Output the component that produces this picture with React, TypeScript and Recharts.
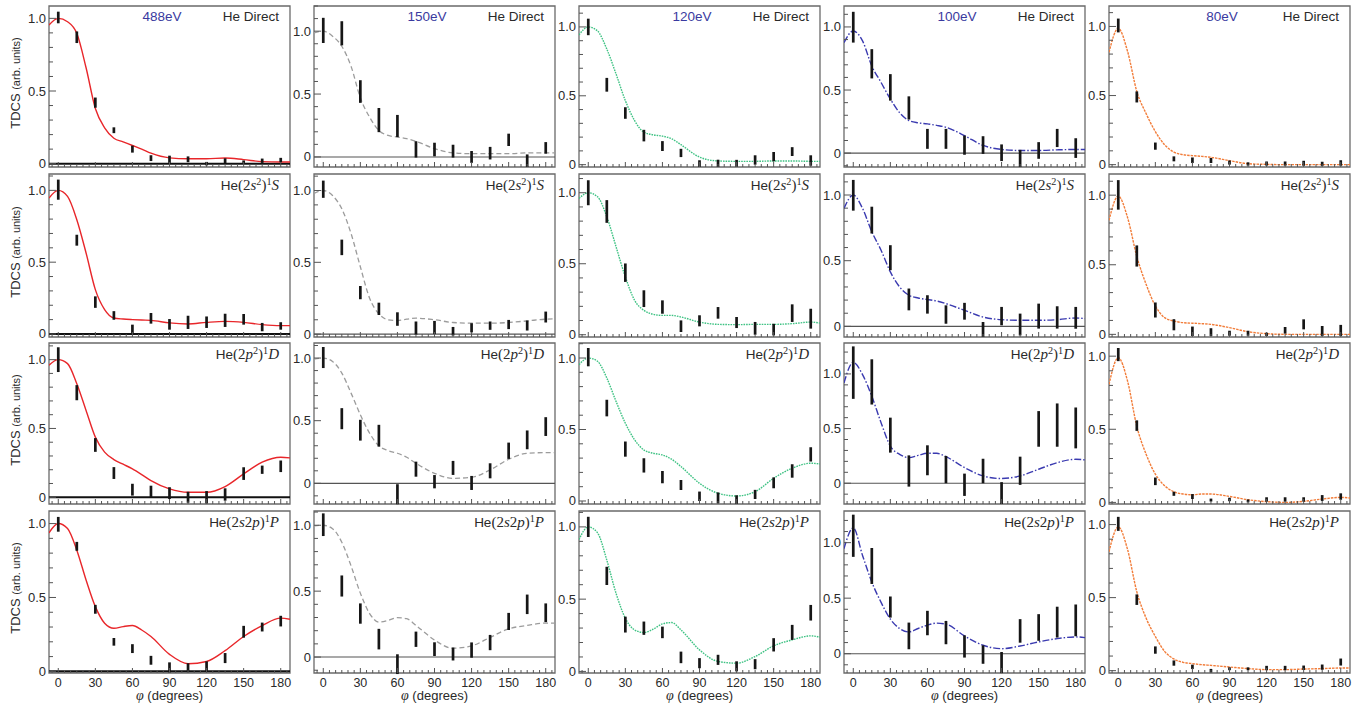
import React from 'react';
import { ComposedChart, Line, Scatter, ErrorBar, XAxis, YAxis, ReferenceLine, ReferenceArea } from 'recharts';

// ---------- data ----------
const ANGLES = [0, 15, 30, 45, 60, 75, 90, 105, 120, 135, 150, 165, 180];
const CURVE_X = [-7.5, 0, 7.5, 15, 22.5, 30, 37.5, 45, 52.5, 60, 67.5, 75, 90, 105, 120, 135, 150, 165, 180, 187.5];
const ENERGIES = ['488eV', '150eV', '120eV', '100eV', '80eV'];
const STATES = ['direct', '2s2', '2p2', '2s2p'];
const X_LABELS = [0, 30, 60, 90, 120, 150, 180];
const Y_LABELS = [0, 0.5, 1.0];

// 488 eV
const th488Direct = [0.954, 1.0, 0.977, 0.897, 0.66, 0.38, 0.247, 0.175, 0.15, 0.125, 0.1, 0.072, 0.04, 0.034, 0.034, 0.039, 0.028, 0.014, 0.011, 0.011];
const th488S = [0.947, 1.0, 0.958, 0.796, 0.564, 0.309, 0.17, 0.111, 0.104, 0.1, 0.097, 0.095, 0.077, 0.07, 0.081, 0.088, 0.081, 0.065, 0.058, 0.058];
const th488D = [0.959, 1.0, 0.971, 0.825, 0.631, 0.437, 0.328, 0.274, 0.24, 0.206, 0.165, 0.121, 0.061, 0.036, 0.036, 0.078, 0.17, 0.255, 0.291, 0.286];
const th488P = [0.937, 1.0, 0.966, 0.82, 0.618, 0.438, 0.326, 0.292, 0.303, 0.31, 0.28, 0.236, 0.115, 0.052, 0.067, 0.14, 0.236, 0.31, 0.36, 0.353];
const ex488DirectV = [1.006, 0.87, 0.42, 0.23, 0.1, 0.038, 0.03, 0.03, 0.0, 0.02, 0.01, 0.02, 0.025];
const ex488DirectE = [0.04, 0.04, 0.035, 0.02, 0.024, 0.02, 0.025, 0.02, 0.012, 0.017, 0.012, 0.015, 0.015];
const ex488SV = [1.005, 0.653, 0.222, 0.129, 0.03, 0.109, 0.067, 0.081, 0.082, 0.095, 0.102, 0.048, 0.056];
const ex488SE = [0.07, 0.038, 0.04, 0.03, 0.035, 0.037, 0.037, 0.046, 0.04, 0.046, 0.037, 0.029, 0.026];
const ex488DV = [1.0, 0.76, 0.38, 0.176, 0.055, 0.042, 0.03, 0.0, 0.0, 0.02, 0.172, 0.2, 0.225];
const ex488DE = [0.09, 0.055, 0.05, 0.043, 0.043, 0.042, 0.043, 0.04, 0.045, 0.045, 0.046, 0.03, 0.042];
const ex488PV = [0.995, 0.846, 0.42, 0.2, 0.154, 0.075, 0.027, 0.025, 0.034, 0.09, 0.268, 0.3, 0.34];
const ex488PE = [0.05, 0.03, 0.03, 0.026, 0.03, 0.03, 0.034, 0.03, 0.034, 0.034, 0.04, 0.03, 0.036];

// 150 eV
const th150Direct = [0.987, 1.0, 0.96, 0.88, 0.72, 0.47, 0.316, 0.21, 0.171, 0.158, 0.145, 0.124, 0.066, 0.032, 0.026, 0.026, 0.026, 0.032, 0.032, 0.032];
const th150S = [0.98, 1.0, 0.965, 0.873, 0.7, 0.469, 0.25, 0.141, 0.1, 0.095, 0.104, 0.111, 0.1, 0.081, 0.076, 0.076, 0.081, 0.092, 0.104, 0.106];
const th150D = [0.992, 1.0, 0.973, 0.88, 0.72, 0.547, 0.4, 0.299, 0.261, 0.24, 0.208, 0.16, 0.08, 0.04, 0.048, 0.107, 0.192, 0.24, 0.245, 0.245];
const th150P = [0.995, 1.0, 0.974, 0.871, 0.691, 0.485, 0.33, 0.265, 0.278, 0.299, 0.291, 0.24, 0.129, 0.067, 0.085, 0.149, 0.214, 0.24, 0.258, 0.258];
const ex150DirectV = [1.006, 0.983, 0.52, 0.293, 0.246, 0.06, 0.059, 0.046, 0.0, 0.03, 0.136, -0.03, 0.072];
const ex150DirectE = [0.1, 0.096, 0.09, 0.096, 0.088, 0.065, 0.054, 0.051, 0.047, 0.05, 0.049, 0.05, 0.046];
const ex150SV = [1.009, 0.604, 0.289, 0.176, 0.105, 0.042, 0.046, 0.02, 0.044, 0.059, 0.067, 0.06, 0.119];
const ex150SE = [0.06, 0.054, 0.046, 0.043, 0.047, 0.046, 0.046, 0.03, 0.032, 0.029, 0.032, 0.035, 0.038];
const ex150DV = [1.004, 0.516, 0.424, 0.38, -0.087, 0.113, 0.013, 0.123, 0.003, 0.1, 0.26, 0.347, 0.453];
const ex150DE = [0.084, 0.084, 0.083, 0.087, 0.08, 0.06, 0.053, 0.056, 0.056, 0.06, 0.065, 0.075, 0.075];
const ex150PV = [1.004, 0.539, 0.33, 0.136, -0.054, 0.135, 0.06, 0.023, 0.053, 0.11, 0.27, 0.4, 0.336];
const ex150PE = [0.086, 0.08, 0.077, 0.078, 0.075, 0.058, 0.052, 0.049, 0.058, 0.058, 0.065, 0.074, 0.071];

// 120 eV
const th120Direct = [0.942, 1.0, 0.971, 0.839, 0.658, 0.465, 0.32, 0.236, 0.217, 0.207, 0.188, 0.145, 0.055, 0.027, 0.024, 0.024, 0.027, 0.027, 0.024, 0.024];
const th120S = [0.96, 1.0, 0.972, 0.831, 0.619, 0.407, 0.242, 0.172, 0.144, 0.136, 0.136, 0.125, 0.089, 0.073, 0.071, 0.073, 0.073, 0.078, 0.089, 0.082];
const th120D = [0.953, 1.0, 0.977, 0.86, 0.696, 0.544, 0.428, 0.357, 0.334, 0.322, 0.292, 0.241, 0.124, 0.054, 0.035, 0.065, 0.159, 0.229, 0.264, 0.259];
const th120P = [0.913, 1.0, 0.959, 0.77, 0.54, 0.368, 0.287, 0.269, 0.292, 0.329, 0.338, 0.287, 0.149, 0.069, 0.057, 0.103, 0.177, 0.218, 0.246, 0.237];
const ex120DirectV = [1.0, 0.58, 0.375, 0.211, 0.135, 0.085, 0.008, 0.01, 0.01, 0.034, 0.058, 0.095, 0.03];
const ex120DirectE = [0.06, 0.05, 0.042, 0.042, 0.036, 0.03, 0.024, 0.026, 0.025, 0.034, 0.034, 0.032, 0.038];
const ex120SV = [1.0, 0.868, 0.437, 0.254, 0.195, 0.06, 0.098, 0.154, 0.086, 0.045, 0.036, 0.152, 0.113];
const ex120SE = [0.088, 0.08, 0.065, 0.059, 0.047, 0.041, 0.039, 0.041, 0.039, 0.045, 0.041, 0.062, 0.07];
const ex120DV = [1.006, 0.65, 0.363, 0.249, 0.167, 0.112, 0.033, 0.022, 0.01, 0.046, 0.127, 0.21, 0.326];
const ex120DE = [0.064, 0.058, 0.053, 0.05, 0.043, 0.035, 0.033, 0.038, 0.03, 0.032, 0.038, 0.047, 0.05];
const ex120PV = [1.0, 0.661, 0.324, 0.299, 0.27, 0.097, 0.057, 0.08, 0.035, 0.05, 0.184, 0.27, 0.406];
const ex120PE = [0.07, 0.063, 0.055, 0.046, 0.04, 0.04, 0.035, 0.035, 0.035, 0.035, 0.046, 0.052, 0.054];

// 100 eV
const th100Direct = [0.876, 0.968, 0.889, 0.69, 0.56, 0.429, 0.32, 0.258, 0.24, 0.232, 0.22, 0.205, 0.139, 0.061, 0.029, 0.021, 0.021, 0.026, 0.029, 0.029];
const th100S = [0.898, 1.0, 0.898, 0.72, 0.58, 0.415, 0.3, 0.237, 0.216, 0.204, 0.193, 0.173, 0.122, 0.071, 0.051, 0.046, 0.046, 0.051, 0.064, 0.059];
const th100D = [0.918, 1.106, 0.994, 0.796, 0.553, 0.34, 0.264, 0.234, 0.255, 0.274, 0.274, 0.243, 0.143, 0.067, 0.043, 0.067, 0.128, 0.188, 0.219, 0.213];
const th100P = [0.946, 1.133, 0.885, 0.645, 0.462, 0.311, 0.227, 0.196, 0.227, 0.257, 0.275, 0.266, 0.16, 0.076, 0.045, 0.069, 0.106, 0.136, 0.151, 0.145];
const ex100DirectV = [0.998, 0.708, 0.521, 0.358, 0.113, 0.113, 0.063, 0.064, 0.003, -0.042, 0.021, 0.12, 0.04];
const ex100DirectE = [0.122, 0.116, 0.105, 0.092, 0.079, 0.079, 0.076, 0.07, 0.066, 0.068, 0.066, 0.072, 0.078];
const ex100SV = [0.998, 0.809, 0.523, 0.205, 0.167, 0.09, 0.115, -0.024, 0.078, 0.014, 0.078, 0.068, 0.065];
const ex100SE = [0.117, 0.102, 0.095, 0.083, 0.07, 0.07, 0.064, 0.057, 0.07, 0.083, 0.095, 0.085, 0.083];
const ex100DV = [1.012, 0.927, 0.44, 0.112, 0.21, 0.125, -0.014, 0.112, -0.09, 0.114, 0.497, 0.532, 0.506];
const ex100DE = [0.24, 0.207, 0.16, 0.143, 0.137, 0.125, 0.102, 0.112, 0.1, 0.129, 0.163, 0.198, 0.187];
const ex100PV = [1.062, 0.79, 0.42, 0.16, 0.276, 0.19, 0.065, -0.008, -0.08, 0.205, 0.236, 0.284, 0.3];
const ex100PE = [0.19, 0.162, 0.095, 0.12, 0.11, 0.105, 0.1, 0.083, 0.095, 0.106, 0.12, 0.139, 0.143];

// 80 eV
const th80Direct = [0.813, 0.986, 0.82, 0.53, 0.37, 0.239, 0.144, 0.091, 0.072, 0.065, 0.06, 0.053, 0.029, 0.007, 0.002, 0.0, 0.0, 0.0, 0.0, 0.0];
const th80S = [0.819, 0.993, 0.84, 0.56, 0.36, 0.205, 0.12, 0.096, 0.084, 0.08, 0.077, 0.072, 0.048, 0.019, 0.005, 0.0, 0.0, 0.0, 0.0, 0.0];
const th80D = [0.807, 0.989, 0.83, 0.52, 0.33, 0.193, 0.114, 0.073, 0.057, 0.052, 0.057, 0.057, 0.041, 0.018, 0.005, 0.0, 0.007, 0.023, 0.034, 0.03];
const th80P = [0.814, 0.984, 0.83, 0.54, 0.36, 0.234, 0.132, 0.08, 0.057, 0.048, 0.041, 0.036, 0.025, 0.014, 0.007, 0.007, 0.011, 0.014, 0.018, 0.018];
const ex80DirectV = [1.007, 0.49, 0.134, 0.042, 0.032, 0.03, 0.015, 0.005, 0.008, 0.008, 0.01, 0.006, 0.012];
const ex80DirectE = [0.05, 0.04, 0.026, 0.018, 0.02, 0.018, 0.015, 0.012, 0.015, 0.015, 0.018, 0.015, 0.02];
const ex80SV = [1.002, 0.563, 0.175, 0.069, 0.022, 0.016, 0.008, 0.008, 0.0, 0.029, 0.072, 0.024, 0.028];
const ex80SE = [0.106, 0.076, 0.054, 0.04, 0.034, 0.028, 0.018, 0.018, 0.012, 0.024, 0.036, 0.036, 0.04];
const ex80DV = [1.011, 0.525, 0.144, 0.059, 0.04, 0.016, 0.02, 0.01, 0.02, 0.02, 0.02, 0.03, 0.04];
const ex80DE = [0.045, 0.036, 0.026, 0.014, 0.017, 0.01, 0.012, 0.01, 0.015, 0.015, 0.015, 0.02, 0.022];
const ex80PV = [1.005, 0.486, 0.141, 0.052, 0.026, 0.0, 0.013, 0.013, 0.018, 0.018, 0.02, 0.024, 0.059];
const ex80PE = [0.048, 0.036, 0.025, 0.018, 0.015, 0.012, 0.01, 0.01, 0.015, 0.015, 0.015, 0.018, 0.024];

// y-axis ranges, rows = states, columns = energies
const yRangeDirect = [[-0.023, 1.085], [-0.08, 1.2], [-0.017, 1.152], [-0.11, 1.166], [-0.017, 1.148]];
const yRangeS = [[-0.021, 1.114], [-0.02, 1.115], [-0.016, 1.132], [-0.081, 1.16], [-0.019, 1.152]];
const yRangeD = [[-0.049, 1.121], [-0.165, 1.12], [-0.021, 1.105], [-0.19, 1.283], [-0.011, 1.09]];
const yRangeP = [[-0.011, 1.085], [-0.121, 1.108], [-0.011, 1.11], [-0.174, 1.285], [-0.016, 1.093]];

// ---------- assembly ----------
const THEORY = [
  [th488Direct, th150Direct, th120Direct, th100Direct, th80Direct],
  [th488S, th150S, th120S, th100S, th80S],
  [th488D, th150D, th120D, th100D, th80D],
  [th488P, th150P, th120P, th100P, th80P],
];
const EXP_V = [
  [ex488DirectV, ex150DirectV, ex120DirectV, ex100DirectV, ex80DirectV],
  [ex488SV, ex150SV, ex120SV, ex100SV, ex80SV],
  [ex488DV, ex150DV, ex120DV, ex100DV, ex80DV],
  [ex488PV, ex150PV, ex120PV, ex100PV, ex80PV],
];
const EXP_E = [
  [ex488DirectE, ex150DirectE, ex120DirectE, ex100DirectE, ex80DirectE],
  [ex488SE, ex150SE, ex120SE, ex100SE, ex80SE],
  [ex488DE, ex150DE, ex120DE, ex100DE, ex80DE],
  [ex488PE, ex150PE, ex120PE, ex100PE, ex80PE],
];
const Y_RANGES = [yRangeDirect, yRangeS, yRangeD, yRangeP];

// ---------- layout & style ----------
const COL_LEFT = [49, 314, 579, 844, 1109];
const PANEL_W = 241;
const ROW_TOP = [6, 174, 343, 511];
const PANEL_H = [161, 163, 161, 162];
const X_DOMAIN = [-7.5, 187.5];
const LINE_COLORS = ['#e8262a', '#9c9c9c', '#3ec283', '#3a3ab0', '#f27d3a'];
const LINE_DASH = [undefined, '5 3', '1.6 1', '7 2 1.5 2', '2.5 1'];
const SANS = '"Liberation Sans", Arial, Helvetica, sans-serif';
const SERIF = '"Liberation Serif", "DejaVu Serif", serif';
const TEXT = '#2a2a2a';
const TICK = '#555';

const X_TICKS: number[] = [];
for (let a = -5; a <= 185; a += 5) X_TICKS.push(a);

function XTick(props: any) {
  const { x, y, payload, showLabel } = props;
  const v = payload.value;
  const major = v % 30 === 0;
  return (
    <g>
      <line x1={x} x2={x} y1={y} y2={y - (major ? 5 : 3)} stroke={TICK} strokeWidth={1} />
      {showLabel && X_LABELS.includes(v) && (
        <text x={x} y={y + 9.5} textAnchor="middle" dominantBaseline="central" fontSize={12.5} fontFamily={SANS} fill={TEXT}>
          {v}
        </text>
      )}
    </g>
  );
}

function YTick(props: any) {
  const { x, y, payload } = props;
  const v = payload.value;
  const lab = Y_LABELS.find((l) => Math.abs(l - v) < 1e-6);
  const major = lab !== undefined;
  return (
    <g>
      <line x1={x} x2={x + (major ? 7 : 4)} y1={y} y2={y} stroke={TICK} strokeWidth={1} />
      {major && (
        <text x={x - 3} y={y} textAnchor="end" dominantBaseline="central" fontSize={13} fontFamily={SANS} fill={TEXT}>
          {lab === 0 ? '0' : lab.toFixed(1)}
        </text>
      )}
    </g>
  );
}

const supStyle: React.CSSProperties = { fontSize: '0.68em', verticalAlign: '0.5em', lineHeight: 0 };

function StateLabel({ state }: { state: string }) {
  if (state === 'direct') return <span style={{ fontFamily: SANS }}>He Direct</span>;
  let inner: React.ReactNode = null;
  if (state === '2s2') inner = (<>(2<i>s</i><sup style={supStyle}>2</sup>)<sup style={supStyle}>1</sup><i>S</i></>);
  if (state === '2p2') inner = (<>(2<i>p</i><sup style={supStyle}>2</sup>)<sup style={supStyle}>1</sup><i>D</i></>);
  if (state === '2s2p') inner = (<>(2<i>s</i>2<i>p</i>)<sup style={supStyle}>1</sup><i>P</i></>);
  return (
    <span>
      <span style={{ fontFamily: SANS }}>He</span>
      <span style={{ fontFamily: SERIF, fontSize: 15 }}>{inner}</span>
    </span>
  );
}

function Panel({ row, col }: { row: number; col: number }) {
  const L = col === 0 ? 49 : 40;
  const B = row === 3 ? 30 : 9;
  const T = 2;
  const R = 3;
  const h = PANEL_H[row];
  const [ymin, ymax] = Y_RANGES[row][col];
  const yTicks: number[] = [];
  for (let i = -3; i <= 13; i++) {
    const v = i / 10;
    if (v >= ymin - 1e-9 && v <= ymax + 1e-9) yTicks.push(v);
  }
  const curve = CURVE_X.map((x, i) => ({ x, y: THEORY[row][col][i] }));
  const pts = ANGLES.map((x, i) => ({ x, y: EXP_V[row][col][i], e: EXP_E[row][col][i] }));
  return (
    <div style={{ position: 'absolute', left: COL_LEFT[col] - L, top: ROW_TOP[row] - T }}>
      <ComposedChart width={L + PANEL_W + R} height={T + h + B} margin={{ top: T, right: R, bottom: 0, left: 0 }}>
        <XAxis
          type="number"
          dataKey="x"
          domain={X_DOMAIN}
          allowDataOverflow
          ticks={X_TICKS}
          interval={0}
          tickSize={0}
          tickMargin={0}
          axisLine={false}
          tickLine={false}
          height={B}
          tick={(p: any) => <XTick {...p} showLabel={row === 3} />}
        />
        <YAxis
          type="number"
          domain={[ymin, ymax]}
          allowDataOverflow
          ticks={yTicks}
          interval={0}
          width={L}
          tickSize={0}
          tickMargin={0}
          axisLine={false}
          tickLine={false}
          tick={(p: any) => <YTick {...p} />}
        />
        {col !== 2 && col !== 4 && (
          <ReferenceLine
            y={0}
            stroke={col === 0 ? '#111' : '#555'}
            strokeWidth={col === 0 ? 2 : 1.1}
            ifOverflow="visible"
          />
        )}
        <Line
          data={curve}
          dataKey="y"
          type="monotone"
          stroke={LINE_COLORS[col]}
          strokeWidth={col === 1 ? 1.3 : 1.4}
          strokeDasharray={LINE_DASH[col]}
          dot={false}
          activeDot={false}
          isAnimationActive={false}
        />
        <Scatter data={pts} dataKey="y" shape={() => <g />} isAnimationActive={false}>
          <ErrorBar dataKey="e" direction="y" width={0} stroke="#161616" strokeWidth={2.7} isAnimationActive={false} />
        </Scatter>
        <ReferenceArea
          x1={X_DOMAIN[0]}
          x2={X_DOMAIN[1]}
          y1={ymin}
          y2={ymax}
          fill="none"
          fillOpacity={0}
          stroke="#6a6a6a"
          strokeWidth={1.3}
          ifOverflow="visible"
        />
      </ComposedChart>
      <div
        style={{
          position: 'absolute',
          right: R + 11,
          top: T + 2,
          fontSize: 13.5,
          color: TEXT,
          whiteSpace: 'nowrap',
          lineHeight: '18px',
        }}
      >
        <StateLabel state={STATES[row]} />
      </div>
      {row === 0 && (
        <div
          style={{
            position: 'absolute',
            left: L + 113 - 40,
            width: 80,
            textAlign: 'center',
            top: T + 2,
            fontSize: 13.5,
            lineHeight: '18px',
            color: '#3a3aa0',
            fontFamily: SANS,
          }}
        >
          {ENERGIES[col]}
        </div>
      )}
      {row === 3 && (
        <div
          style={{
            position: 'absolute',
            left: L,
            width: PANEL_W,
            textAlign: 'center',
            top: T + h + 16,
            fontSize: 13,
            lineHeight: '13px',
            color: TEXT,
            fontFamily: SANS,
            whiteSpace: 'nowrap',
          }}
        >
          <i style={{ fontFamily: SERIF, fontSize: 14 }}>φ</i> (degrees)
        </div>
      )}
      {col === 0 && (
        <div
          style={{
            position: 'absolute',
            left: 15 - 70,
            width: 140,
            top: T + h / 2 - 12,
            height: 16,
            lineHeight: '16px',
            textAlign: 'center',
            transform: 'rotate(-90deg)',
            fontFamily: SANS,
            color: TEXT,
            whiteSpace: 'nowrap',
          }}
        >
          <span style={{ fontSize: 13 }}>TDCS </span>
          <span style={{ fontSize: 11 }}>(arb. units)</span>
        </div>
      )}
    </div>
  );
}

export default function App() {
  const panels = [];
  for (let r = 0; r < 4; r++) {
    for (let c = 0; c < 5; c++) {
      panels.push(<Panel key={`${r}-${c}`} row={r} col={c} />);
    }
  }
  return (
    <div style={{ position: 'absolute', left: 0, top: 0, width: 1367, height: 703, background: '#fff', overflow: 'hidden' }}>
      {panels}
    </div>
  );
}
